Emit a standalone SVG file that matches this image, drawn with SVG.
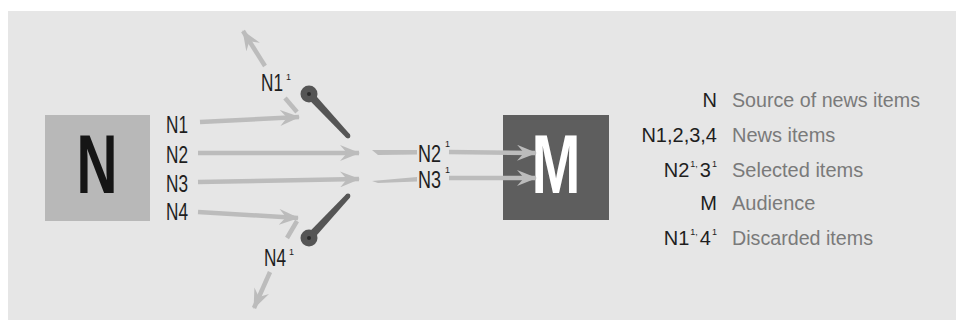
<svg xmlns="http://www.w3.org/2000/svg" width="956" height="320" viewBox="0 0 956 320">
  <defs>
    <style>
      .flow { stroke: #bcbcbc; stroke-width: 4.5; fill: none; marker-end: url(#head); }
      .stub { stroke: #bcbcbc; stroke-width: 4.5; fill: none; }
      .lbl { font-family: "Liberation Sans", Arial, sans-serif; font-size: 23px; fill: #1e1e1e; }
      .key { font-family: "Liberation Sans", Arial, sans-serif; font-size: 20px; fill: #1e1e1e; text-anchor: end; }
      .desc { font-family: "Liberation Sans", Arial, sans-serif; font-size: 20px; fill: #7a7a7a; }
      .big { font-family: "Liberation Sans", Arial, sans-serif; font-weight: bold; font-size: 84px; text-anchor: middle; }
      .lever { fill: #555555; }
      .pivot { fill: #2a2a2a; }
    </style>
    <marker id="head" markerUnits="userSpaceOnUse" viewBox="0 0 20 16" markerWidth="20" markerHeight="16" refX="19" refY="8" orient="auto">
      <path d="M0,0 L20,8 L0,16 L7,8 z" fill="#bcbcbc"/>
    </marker>
  </defs>

  <!-- panel -->
  <rect x="0" y="0" width="956" height="320" fill="#ffffff"/>
  <rect x="8" y="11" width="948" height="309" fill="#e6e6e6"/>

  <!-- source -->
  <g id="source">
    <rect x="45" y="115" width="105" height="106" fill="#b8b8b8"/>
    <text class="big" x="97" y="193" fill="#151515" textLength="41" lengthAdjust="spacingAndGlyphs">N</text>
  </g>

  <!-- audience -->
  <g id="audience">
    <rect x="503" y="115" width="106" height="105" fill="#5e5e5e"/>
    <text class="big" x="556" y="193" fill="#ffffff" textLength="49" lengthAdjust="spacingAndGlyphs">M</text>
  </g>

  <!-- connectors -->
  <g id="connectors">
    <line class="flow" x1="200" y1="122" x2="299" y2="117"/>
    <line class="flow" x1="198" y1="153" x2="359" y2="153"/>
    <line class="flow" x1="198" y1="182" x2="359" y2="179"/>
    <line class="flow" x1="198" y1="212" x2="298" y2="218"/>

    <!-- discarded N1' -->
    <line class="stub" x1="297" y1="112" x2="285" y2="98"/>
    <line class="flow" x1="265" y1="66" x2="243" y2="31"/>
    <!-- discarded N4' -->
    <line class="stub" x1="297" y1="221" x2="287" y2="238"/>
    <line class="flow" x1="270" y1="272" x2="254" y2="308"/>

    <!-- selected N2' N3' -->
    <polygon points="372,150 417,150 417,154.5 378,155" fill="#bcbcbc"/>
    <polygon points="372,181 417,177 417,181.5 378,183" fill="#bcbcbc"/>
    <line class="flow" x1="449" y1="152" x2="536" y2="153"/>
    <line class="flow" x1="449" y1="178" x2="536" y2="178"/>
  </g>

  <!-- gates -->
  <g id="gate-top">
    <polygon class="lever" points="311.9,91.3 349.8,134.3 346.2,137.7 306.1,96.7"/>
    <circle class="lever" cx="348" cy="136" r="2.4"/>
    <circle class="lever" cx="309" cy="94" r="8.5"/>
    <circle class="pivot" cx="309" cy="94" r="2"/>
  </g>
  <g id="gate-bottom">
    <polygon class="lever" points="306.1,235.3 346.2,194.3 349.8,197.7 311.9,240.7"/>
    <circle class="lever" cx="348" cy="196" r="2.4"/>
    <circle class="lever" cx="309" cy="238" r="8.5"/>
    <circle class="pivot" cx="309" cy="238" r="2"/>
  </g>

  <!-- item labels -->
  <g id="labels">
    <text class="lbl" x="166" y="133" textLength="22" lengthAdjust="spacingAndGlyphs">N1</text>
    <text class="lbl" x="166" y="163" textLength="22" lengthAdjust="spacingAndGlyphs">N2</text>
    <text class="lbl" x="166" y="192" textLength="22" lengthAdjust="spacingAndGlyphs">N3</text>
    <text class="lbl" x="166" y="220" textLength="22" lengthAdjust="spacingAndGlyphs">N4</text>

    <text class="lbl" x="261" y="91"><tspan textLength="22" lengthAdjust="spacingAndGlyphs">N1</tspan><tspan x="286" dy="-11" font-size="9">1</tspan></text>
    <text class="lbl" x="264" y="266"><tspan textLength="22" lengthAdjust="spacingAndGlyphs">N4</tspan><tspan x="289" dy="-11" font-size="9">1</tspan></text>
    <text class="lbl" x="418" y="162"><tspan textLength="23" lengthAdjust="spacingAndGlyphs">N2</tspan><tspan x="445" dy="-15" font-size="9">1</tspan></text>
    <text class="lbl" x="418" y="188"><tspan textLength="23" lengthAdjust="spacingAndGlyphs">N3</tspan><tspan x="445" dy="-15" font-size="9">1</tspan></text>
  </g>

  <!-- legend -->
  <g id="legend">
    <text class="key" x="717" y="107">N</text>
    <text class="desc" x="732" y="107" textLength="188" lengthAdjust="spacingAndGlyphs">Source of news items</text>
    <text class="key" x="717" y="142">N1,2,3,4</text>
    <text class="desc" x="732" y="142">News items</text>
    <text class="key" x="717" y="177">N2<tspan font-size="9" dy="-10" dx="1">1,</tspan><tspan dy="10" dx="2">3</tspan><tspan font-size="9" dy="-10" dx="1">1</tspan></text>
    <text class="desc" x="732" y="177">Selected items</text>
    <text class="key" x="717" y="210">M</text>
    <text class="desc" x="732" y="210">Audience</text>
    <text class="key" x="717" y="245">N1<tspan font-size="9" dy="-10" dx="1">1,</tspan><tspan dy="10" dx="2">4</tspan><tspan font-size="9" dy="-10" dx="1">1</tspan></text>
    <text class="desc" x="732" y="245" textLength="141" lengthAdjust="spacingAndGlyphs">Discarded items</text>
  </g>
</svg>
